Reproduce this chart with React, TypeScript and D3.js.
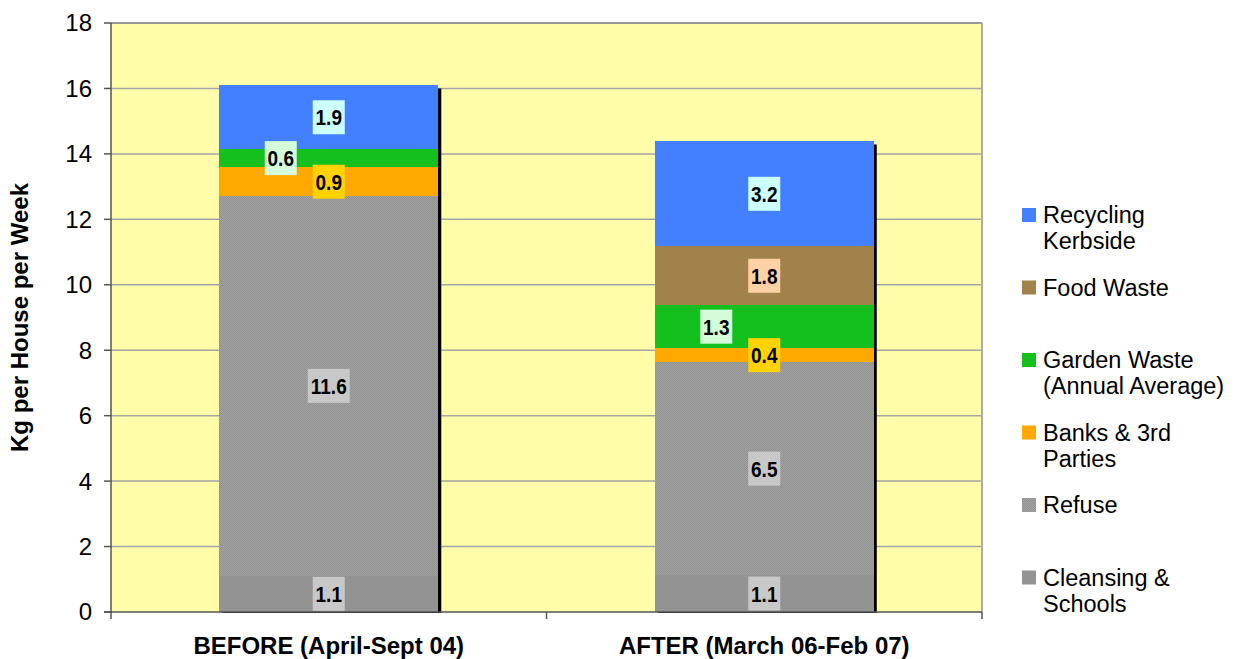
import React from "react";
import * as d3 from "d3";

const categories = ["BEFORE (April-Sept 04)", "AFTER (March 06-Feb 07)"];
const seriesNames = [
  "Cleansing & Schools",
  "Refuse",
  "Banks & 3rd Parties",
  "Garden Waste (Annual Average)",
  "Food Waste",
  "Recycling Kerbside",
];
const cleansing = [1.11, 1.13];
const refuse = [11.6, 6.5];
const banks = [0.88, 0.44];
const garden = [0.56, 1.3];
const food = [0, 1.81];
const recycling = [1.94, 3.2];
const yTicks = [0, 2, 4, 6, 8, 10, 12, 14, 16, 18];

const legendItems = [
  { key: "Recycling Kerbside", lines: ["Recycling", "Kerbside"] },
  { key: "Food Waste", lines: ["Food Waste"] },
  { key: "Garden Waste (Annual Average)", lines: ["Garden Waste", "(Annual Average)"] },
  { key: "Banks & 3rd Parties", lines: ["Banks & 3rd", "Parties"] },
  { key: "Refuse", lines: ["Refuse"] },
  { key: "Cleansing & Schools", lines: ["Cleansing &", "Schools"] },
];

const fills: Record<string, string> = {
  "Cleansing & Schools": "#939393",
  Refuse: "url(#refusePat)",
  "Banks & 3rd Parties": "#FFA800",
  "Garden Waste (Annual Average)": "#14C01E",
  "Food Waste": "#A0824A",
  "Recycling Kerbside": "#4380FF",
};
const labelBg: Record<string, string> = {
  "Cleansing & Schools": "#C8C8C8",
  Refuse: "#C8C8C8",
  "Banks & 3rd Parties": "#FFD200",
  "Garden Waste (Annual Average)": "#D4FCD8",
  "Food Waste": "#FFD1A5",
  "Recycling Kerbside": "#CCFFFF",
};
const labelDx: Record<string, number> = {
  "Garden Waste (Annual Average)": -48,
};

const W = 1239;
const H = 659;
const M = { left: 111, right: 982, top: 23, bottom: 612 };
const FONT = "'Liberation Sans', Arial, sans-serif";

export default function App() {
  const values = [cleansing, refuse, banks, garden, food, recycling];
  const rows = categories.map((c, i) => {
    const r: any = { cat: c };
    seriesNames.forEach((s, k) => (r[s] = values[k][i]));
    return r;
  });
  const stack = d3.stack<any>().keys(seriesNames)(rows);

  const x = d3
    .scaleBand<string>()
    .domain(categories)
    .range([M.left, M.right])
    .paddingInner(0.497)
    .paddingOuter(0.2485);
  const y = d3.scaleLinear().domain([0, 18]).range([M.bottom, M.top]);
  const bw = x.bandwidth();

  const totals = categories.map((_, i) => d3.sum(values, (v) => v[i]));

  return (
    <svg width={W} height={H} style={{ position: "absolute", left: 0, top: 0 }} fontFamily={FONT}>
      <defs>
        <pattern id="refusePat" width={2} height={2} patternUnits="userSpaceOnUse">
          <rect width={2} height={2} fill="#A2A2A2" />
          <rect width={1} height={1} fill="#929292" />
          <rect x={1} y={1} width={1} height={1} fill="#929292" />
        </pattern>
      </defs>
      <rect width={W} height={H} fill="#fff" />
      <rect x={M.left} y={M.top} width={M.right - M.left} height={M.bottom - M.top} fill="#FFFCAA" />
      {yTicks.filter((t) => t > 0 && t < 18).map((t) => (
        <line key={t} x1={M.left} x2={M.right} y1={y(t)} y2={y(t)} stroke="#A5A5A5" strokeWidth={1.5} />
      ))}
      <line x1={M.left} x2={M.right} y1={M.top} y2={M.top} stroke="#999" strokeWidth={2} />
      <line x1={M.right} x2={M.right} y1={M.top} y2={M.bottom} stroke="#AAA" strokeWidth={2} />

      {categories.map((c, i) => (
        <rect
          key={"sh" + c}
          x={(x(c) as number) + 3}
          y={y(totals[i]) + 3}
          width={bw}
          height={M.bottom + 1 - y(totals[i]) - 3}
          fill="#000"
        />
      ))}
      {stack.map((layer) =>
        layer.map((d, i) =>
          d[1] - d[0] > 0 ? (
            <rect
              key={layer.key + i}
              x={x(categories[i]) as number}
              y={y(d[1])}
              width={bw}
              height={y(d[0]) - y(d[1])}
              fill={fills[layer.key]}
              shapeRendering="crispEdges"
            />
          ) : null
        )
      )}

      <line x1={M.left} x2={M.left} y1={M.top} y2={M.bottom + 1} stroke="#555" strokeWidth={1.5} />
      <line x1={M.left - 7} x2={M.right} y1={M.bottom} y2={M.bottom} stroke="#555" strokeWidth={1.5} />
      {yTicks.map((t) => (
        <g key={"yt" + t}>
          <line x1={M.left - 7} x2={M.left} y1={y(t)} y2={y(t)} stroke="#555" strokeWidth={1.5} />
          <text x={92} y={y(t)} dy="0.35em" textAnchor="end" fontSize={24} fill="#000">
            {t}
          </text>
        </g>
      ))}
      {[M.left, (M.left + M.right) / 2, M.right].map((tx) => (
        <line key={"xt" + tx} x1={tx} x2={tx} y1={M.bottom} y2={M.bottom + 7} stroke="#555" strokeWidth={1.5} />
      ))}
      {categories.map((c) => (
        <text
          key={"xl" + c}
          x={(x(c) as number) + bw / 2}
          y={646}
          dy="0.35em"
          textAnchor="middle"
          fontSize={24}
          fontWeight="bold"
        >
          {c}
        </text>
      ))}
      <text
        transform={`translate(20,${(M.top + M.bottom) / 2}) rotate(-90)`}
        textAnchor="middle"
        dy="0.35em"
        fontSize={24}
        fontWeight="bold"
      >
        Kg per House per Week
      </text>

      {stack.map((layer) =>
        layer.map((d, i) => {
          const v = d[1] - d[0];
          if (v <= 0) return null;
          const label = d3.format(".1f")(v);
          const cx = (x(categories[i]) as number) + bw / 2 + (labelDx[layer.key] || 0);
          const cy = (y(d[0]) + y(d[1])) / 2;
          const bwid = label.length === 3 ? 32 : 42;
          return (
            <g key={"lb" + layer.key + i}>
              <rect x={cx - bwid / 2} y={cy - 17} width={bwid} height={34} fill={labelBg[layer.key]} />
              <text
                transform={`translate(${cx},${cy}) scale(1,1.2)`}
                dy="0.36em"
                textAnchor="middle"
                fontSize={19}
                fontWeight="bold"
              >
                {label}
              </text>
            </g>
          );
        })
      )}

      {legendItems.map((it, k) => {
        const cy = 215 + k * 72.5;
        return (
          <g key={"lg" + it.key}>
            <rect x={1022} y={cy - 7} width={14} height={14} fill={fills[it.key]} />
            {it.lines.map((ln, j) => (
              <text key={ln} x={1043} y={cy + j * 25.7} dy="0.36em" fontSize={23.5} fill="#000">
                {ln}
              </text>
            ))}
          </g>
        );
      })}
    </svg>
  );
}
